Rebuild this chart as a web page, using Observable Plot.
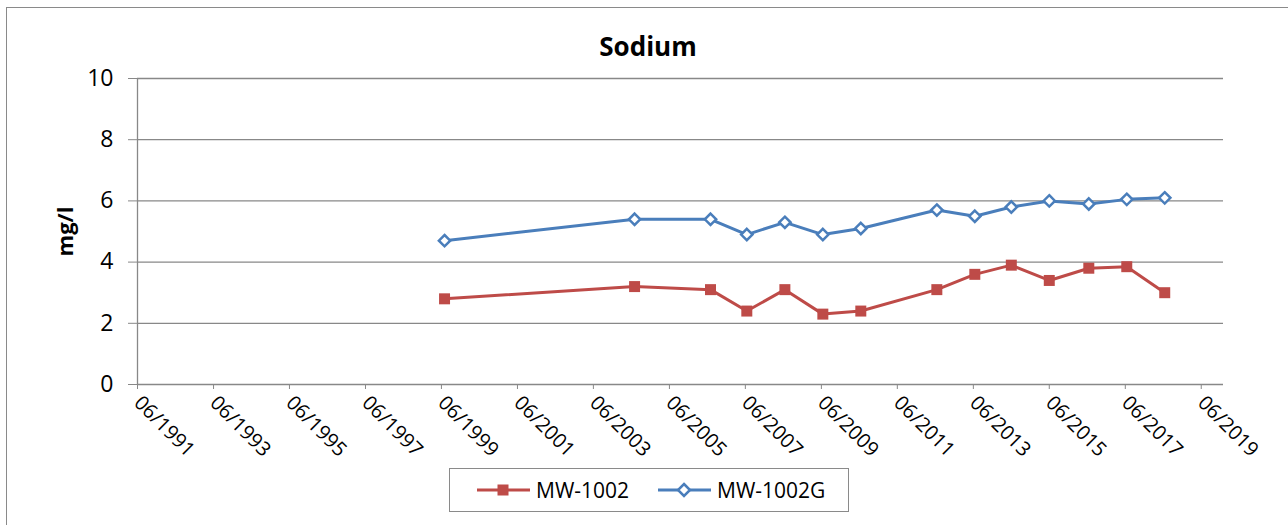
<!DOCTYPE html>
<html><head><meta charset="utf-8">
<script src="https://cdn.jsdelivr.net/npm/d3@7"></script>
<script src="https://cdn.jsdelivr.net/npm/@observablehq/plot@0.6"></script>
<style>
html,body{margin:0;padding:0;background:#fff;overflow:hidden;}
body{width:1288px;height:525px;position:relative;font-family:"Open Sans",sans-serif;color:#000;}
#frame{position:absolute;left:6px;top:7px;width:1320px;height:560px;border:1.5px solid #8a8a8a;box-sizing:border-box;pointer-events:none;}
#title{height:62px;position:relative;}
#title span{position:absolute;left:0;width:1296px;text-align:center;top:31px;font-weight:bold;font-size:26px;line-height:30px;}
#chart svg{display:block;}
#legend{position:absolute;left:449px;top:468px;width:400px;height:44px;border:1.5px solid #8a8a8a;box-sizing:border-box;display:flex;align-items:center;font-size:21px;}
#legend .item{display:flex;align-items:center;position:absolute;top:0;height:41px;}
#legend svg{display:block;}
</style>
</head><body>
<div id="frame"></div>
<div id="title"><span>Sodium</span></div>
<div id="chart"></div>
<div id="legend"></div>
<script>
// ---- data ----
const sampleDates = ["1999-07-01","2004-07-01","2006-07-01","2007-06-15","2008-06-15","2009-06-15","2010-06-15","2012-06-15","2013-06-15","2014-06-01","2015-06-01","2016-06-15","2017-06-15","2018-06-15"];
const mw1002  = [2.8, 3.2, 3.1, 2.4, 3.1, 2.3, 2.4, 3.1, 3.6, 3.9, 3.4, 3.8, 3.85, 3.0];
const mw1002G = [4.7, 5.4, 5.4, 4.9, 5.3, 4.9, 5.1, 5.7, 5.5, 5.8, 6.0, 5.9, 6.05, 6.1];
const seriesNames = ["MW-1002", "MW-1002G"];
const seriesColors = ["#BE4B48", "#4A7EBB"];
const xTickLabels = ["06/1991","06/1993","06/1995","06/1997","06/1999","06/2001","06/2003","06/2005","06/2007","06/2009","06/2011","06/2013","06/2015","06/2017","06/2019"];
const yTicks = [0, 2, 4, 6, 8, 10];
const xDomain = ["1991-06-01", "2020-01-01"];
const yLabel = "mg/l";

// ---- build ----
const parseTick = s => { const [m, y] = s.split("/").map(Number); return new Date(Date.UTC(y, m - 1, 1)); };
const xTicks = xTickLabels.map(parseTick);
const rows = [];
sampleDates.forEach((d, i) => {
  rows.push({date: new Date(d), value: mw1002[i], series: seriesNames[0]});
  rows.push({date: new Date(d), value: mw1002G[i], series: seriesNames[1]});
});
const red = rows.filter(r => r.series === seriesNames[0]);
const blue = rows.filter(r => r.series === seriesNames[1]);

const squareSym = {draw(ctx, size){ const s = Math.sqrt(size) / 2; ctx.moveTo(-s,-s); ctx.lineTo(s,-s); ctx.lineTo(s,s); ctx.lineTo(-s,s); ctx.closePath(); }};
const diamondSym = {draw(ctx, size){ const r = Math.sqrt(size) / 2; ctx.moveTo(0,-r); ctx.lineTo(r,0); ctx.lineTo(0,r); ctx.lineTo(-r,0); ctx.closePath(); }};

const grid = "#888888";
const chart = Plot.plot({
  width: 1288, height: 400,
  marginLeft: 137, marginRight: 65, marginTop: 16, marginBottom: 78,
  style: {fontFamily: "'Open Sans', sans-serif", fontSize: "21px", color: "#000", background: "transparent"},
  x: {type: "utc", domain: xDomain.map(d => new Date(d))},
  y: {domain: [0, 10]},
  marks: [
    Plot.ruleY(yTicks, {stroke: grid, strokeWidth: 1.3, strokeOpacity: 1}),
    Plot.ruleX([new Date(xDomain[0])], {stroke: grid, strokeWidth: 1.3}),
    Plot.axisY({ticks: yTicks, tickSize: 9, tickPadding: 15, stroke: grid, strokeOpacity: 1, label: null, fontSize: 23}),
    Plot.axisX({ticks: xTicks, tickFormat: d3.utcFormat("%m/%Y"), tickRotate: 45, tickSize: 5, tickPadding: 10, stroke: grid, strokeOpacity: 1, label: null, fontSize: 20}),
    Plot.lineY(red, {x: "date", y: "value", stroke: seriesColors[0], strokeWidth: 3}),
    Plot.lineY(blue, {x: "date", y: "value", stroke: seriesColors[1], strokeWidth: 3}),
    Plot.dot(red, {x: "date", y: "value", symbol: squareSym, r: 6.2, fill: seriesColors[0], stroke: "none"}),
    Plot.dot(blue, {x: "date", y: "value", symbol: diamondSym, r: 6.4, fill: "white", stroke: seriesColors[1], strokeWidth: 2.5}),
    Plot.text([yLabel], {frameAnchor: "left", textAnchor: "middle", dx: -72, rotate: -90, text: d => d, fontWeight: "bold", fontSize: 22})
  ]
});
document.getElementById("chart").appendChild(chart);

// legend
const legend = document.getElementById("legend");
const lefts = [27, 208];
seriesNames.forEach((name, i) => {
  const item = document.createElement("div");
  item.className = "item";
  item.style.left = lefts[i] + "px";
  const sym = i === 0
    ? `<rect x="20.5" y="5.5" width="11" height="11" fill="${seriesColors[0]}"/>`
    : `<path d="M26,5 L32,11 L26,17 L20,11 Z" fill="white" stroke="${seriesColors[1]}" stroke-width="2.5"/>`;
  item.innerHTML = `<svg width="54" height="22"><line x1="0" x2="53" y1="11" y2="11" stroke="${seriesColors[i]}" stroke-width="3"/>${sym}</svg><span style="margin-left:5px">${name}</span>`;
  legend.appendChild(item);
});
</script>
</body></html>
